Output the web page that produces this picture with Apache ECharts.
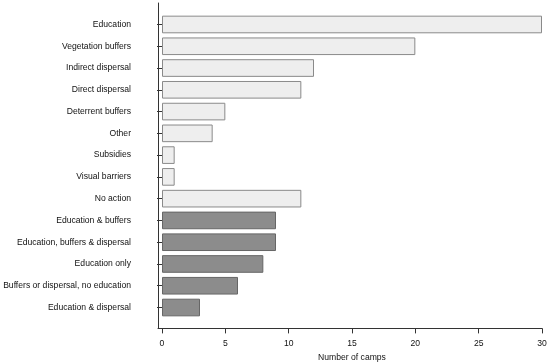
<!DOCTYPE html>
<html>
<head>
<meta charset="utf-8">
<script src="https://cdn.jsdelivr.net/npm/echarts@6/dist/echarts.min.js"></script>
<style>html,body{margin:0;padding:0;background:#fff}#c{width:550px;height:363px}</style>
</head>
<body>
<div id="c"></div>
<script>
var categories = ["Education","Vegetation buffers","Indirect dispersal","Direct dispersal","Deterrent buffers","Other","Subsidies","Visual barriers","No action","Education & buffers","Education, buffers & dispersal","Education only","Buffers or dispersal, no education","Education & dispersal"];
var values = [30,20,12,11,5,4,1,1,11,9,9,8,6,3];
var groups = ["a","a","a","a","a","a","a","a","a","b","b","b","b","b"];
var xTicks = [0,5,10,15,20,25,30];

var styles = {
  a: {color:"#eeeeee", borderColor:"#8a8a8a", borderWidth:1},
  b: {color:"#8c8c8c", borderColor:"#666666", borderWidth:1}
};
var font = "Liberation Sans, Arial, sans-serif";
var chart = echarts.init(document.getElementById('c'));
chart.setOption({
  animation:false,
  grid:[
    {left:162, right:8, top:13.6, bottom:44.6, containLabel:false, outerBoundsMode:'none'},
    {left:158, right:8, top:3, bottom:35, containLabel:false, outerBoundsMode:'none'}
  ],
  xAxis:[
    {gridIndex:0, type:'value', min:xTicks[0], max:xTicks[xTicks.length-1], interval:5, offset:10,
     axisLine:{show:false}, axisTick:{show:true, length:5, lineStyle:{color:'#333'}},
     splitLine:{show:false},
     axisLabel:{color:'#111', fontSize:8.6, fontFamily:font, margin:11},
     name:'Number of camps', nameLocation:'middle', nameGap:24,
     nameTextStyle:{color:'#111', fontSize:8.6, fontFamily:font}},
    {gridIndex:1, type:'value', min:0, max:1, axisLine:{show:true, lineStyle:{color:'#333', width:1}},
     axisTick:{show:false}, axisLabel:{show:false}, splitLine:{show:false}}
  ],
  yAxis:[
    {gridIndex:0, type:'category', data:categories, inverse:true, offset:4,
     axisLine:{show:false}, axisTick:{show:true, length:5, alignWithLabel:true, lineStyle:{color:'#333'}},
     axisLabel:{color:'#111', fontSize:8.6, fontFamily:font, margin:27, interval:0}},
    {gridIndex:1, type:'value', min:0, max:1, axisLine:{show:true, lineStyle:{color:'#333', width:1}},
     axisTick:{show:false}, axisLabel:{show:false}, splitLine:{show:false}}
  ],
  series:[{
    type:'bar', xAxisIndex:0, yAxisIndex:0, barCategoryGap:'19%',
    data: values.map(function(v,i){return {value:v, itemStyle:styles[groups[i]]};})
  }]
});
</script>
</body>
</html>
